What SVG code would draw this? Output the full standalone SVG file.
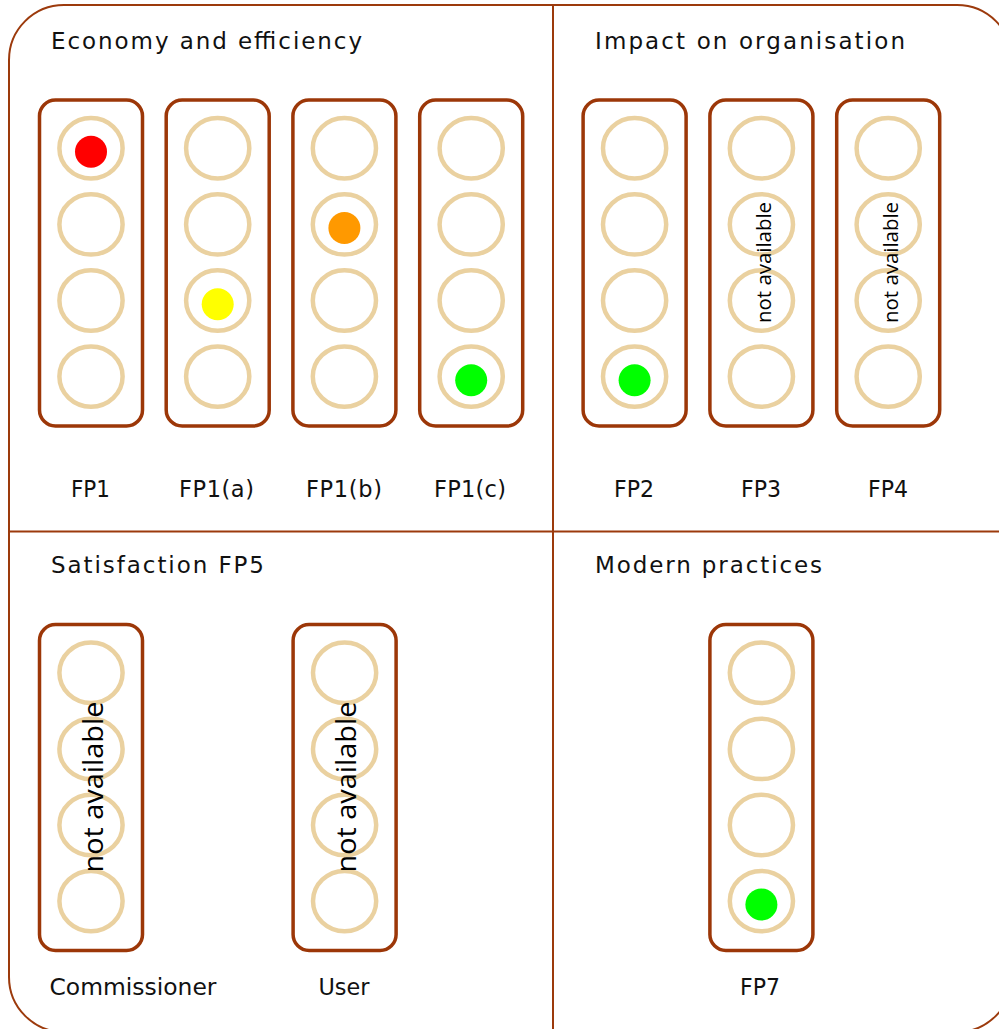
<svg xmlns="http://www.w3.org/2000/svg" width="999" height="1029" viewBox="0 0 999 1029">
<style>
  .frame{fill:none;stroke:#9c3a0c;stroke-width:2}
  .box{fill:#fff;stroke:#9c3708;stroke-width:3.5}
  .ring{fill:none;stroke:#ead1a0;stroke-width:4.5}
  .title{font-family:"DejaVu Sans",Verdana,sans-serif;font-size:23px;fill:#111}
  .lbl{font-family:"DejaVu Sans",Verdana,sans-serif;font-size:22.5px;fill:#111;text-anchor:middle}
  .na{font-family:"Open Sans","DejaVu Sans",sans-serif;fill:#000;text-anchor:middle}
</style>
<defs>
  <g id="light">
    <rect class="box" x="-51.5" y="0" width="103" height="326" rx="16"/>
    <ellipse class="ring" cx="0" cy="48.3" rx="31.6" ry="30.2"/>
    <ellipse class="ring" cx="0" cy="124.4" rx="31.6" ry="30.2"/>
    <ellipse class="ring" cx="0" cy="200.5" rx="31.6" ry="30.2"/>
    <ellipse class="ring" cx="0" cy="276.6" rx="31.6" ry="30.2"/>
  </g>
</defs>
<rect width="999" height="1029" fill="#fff"/>
<g id="frame">
  <rect class="frame" x="9" y="5" width="1003" height="1027" rx="55"/>
  <line class="frame" x1="553" y1="5" x2="553" y2="1032"/>
  <line class="frame" x1="9" y1="531.5" x2="1012" y2="531.5"/>
</g>
<g id="titles">
  <text class="title" x="51" y="49" textLength="311" lengthAdjust="spacing">Economy and efficiency</text>
  <text class="title" x="595" y="49" textLength="310" lengthAdjust="spacing">Impact on organisation</text>
  <text class="title" x="51" y="573" textLength="213" lengthAdjust="spacing">Satisfaction FP5</text>
  <text class="title" x="595" y="573" textLength="227" lengthAdjust="spacing">Modern practices</text>
</g>
<g id="fp1">
  <use href="#light" x="91" y="100"/>
  <circle cx="91" cy="151.8" r="16" fill="#ff0000"/>
  <text class="lbl" x="90.5" y="497" textLength="39" lengthAdjust="spacingAndGlyphs">FP1</text>
</g>
<g id="fp1a">
  <use href="#light" x="217.7" y="100"/>
  <circle cx="217.7" cy="304.2" r="16" fill="#ffff00"/>
  <text class="lbl" x="216.5" y="497" textLength="75" lengthAdjust="spacing">FP1(a)</text>
</g>
<g id="fp1b">
  <use href="#light" x="344.4" y="100"/>
  <circle cx="344.4" cy="228" r="16" fill="#ff9900"/>
  <text class="lbl" x="344" y="497" textLength="76" lengthAdjust="spacing">FP1(b)</text>
</g>
<g id="fp1c">
  <use href="#light" x="471.2" y="100"/>
  <circle cx="471.2" cy="380.2" r="16" fill="#00ff00"/>
  <text class="lbl" x="470" y="497" textLength="72" lengthAdjust="spacing">FP1(c)</text>
</g>
<g id="fp2">
  <use href="#light" x="634.6" y="100"/>
  <circle cx="634.6" cy="380.2" r="16" fill="#00ff00"/>
  <text class="lbl" x="634" y="497" textLength="40" lengthAdjust="spacingAndGlyphs">FP2</text>
</g>
<g id="fp3">
  <use href="#light" x="761.4" y="100"/>
  <text class="na" font-size="20" transform="translate(771,262.5) rotate(-90)" textLength="121" lengthAdjust="spacingAndGlyphs">not available</text>
  <text class="lbl" x="761" y="497" textLength="40" lengthAdjust="spacingAndGlyphs">FP3</text>
</g>
<g id="fp4">
  <use href="#light" x="888.2" y="100"/>
  <text class="na" font-size="20" transform="translate(897.5,262.5) rotate(-90)" textLength="121" lengthAdjust="spacingAndGlyphs">not available</text>
  <text class="lbl" x="888" y="497" textLength="40" lengthAdjust="spacingAndGlyphs">FP4</text>
</g>
<g id="commissioner">
  <use href="#light" x="91" y="624.5"/>
  <text class="na" font-size="27" transform="translate(102.7,787) rotate(-90)" textLength="171" lengthAdjust="spacingAndGlyphs">not available</text>
  <text class="lbl" x="133" y="995" textLength="167" lengthAdjust="spacingAndGlyphs">Commissioner</text>
</g>
<g id="user">
  <use href="#light" x="344.6" y="624.5"/>
  <text class="na" font-size="27" transform="translate(356,787) rotate(-90)" textLength="171" lengthAdjust="spacingAndGlyphs">not available</text>
  <text class="lbl" x="344" y="995" textLength="51" lengthAdjust="spacingAndGlyphs">User</text>
</g>
<g id="fp7">
  <use href="#light" x="761.4" y="624.5"/>
  <circle cx="761.4" cy="904.5" r="16" fill="#00ff00"/>
  <text class="lbl" x="760" y="995" textLength="40" lengthAdjust="spacingAndGlyphs">FP7</text>
</g>
<g id="connectors"/>
</svg>
